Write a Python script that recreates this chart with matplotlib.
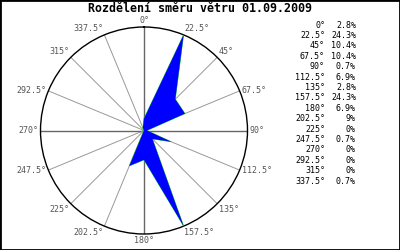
"""wind direction rose 01.09.2009"""
import numpy as np
import matplotlib
matplotlib.use('Agg')
import matplotlib.pyplot as plt
from matplotlib.patches import Rectangle

directions = [0, 22.5, 45, 67.5, 90, 112.5, 135, 157.5,
              180, 202.5, 225, 247.5, 270, 292.5, 315, 337.5]
percent = [2.8, 24.3, 10.4, 10.4, 0.7, 6.9, 2.8, 24.3,
           6.9, 9, 0, 0.7, 0, 0, 0, 0.7]
title = 'Rozdělení směru větru 01.09.2009'

mono = 'DejaVu Sans Mono'

fig = plt.figure(figsize=(4, 2.5), dpi=100)
fig.add_artist(Rectangle((0, 0), 1, 1, transform=fig.transFigure,
                         fill=False, edgecolor='black', lw=2))

ax = fig.add_axes([40.5 / 400, 16 / 250, 207 / 400, 207 / 250],
                  projection='polar')
ax.set_theta_zero_location('N')
ax.set_theta_direction(-1)

theta = np.deg2rad(directions + [directions[0]])
r = percent + [percent[0]]
ax.plot(theta, r, color='#00dd00', lw=0.5, zorder=3)
ax.fill(theta, r, color='blue', lw=0, zorder=4)

rmax = max(percent)
ax.set_ylim(0, rmax)
ax.set_yticks([])
ax.set_xticks(np.deg2rad(directions))
ax.set_xticklabels([])
ax.tick_params(axis='x', length=0)
ax.xaxis.grid(True, color='#999999', lw=0.7, ls='-')
for i, gl in enumerate(ax.xaxis.get_gridlines()):
    if i % 4 == 0:
        gl.set_color('#666666')
        gl.set_linewidth(1.0)
ax.spines['polar'].set_color('black')
ax.spines['polar'].set_linewidth(1.0)

# direction labels just outside the circle
for d in directions:
    s, c = np.sin(np.deg2rad(d)), np.cos(np.deg2rad(d))
    ha = 'left' if s > 0.1 else ('right' if s < -0.1 else 'center')
    va = 'bottom' if c > 0.5 else ('top' if c < -0.5 else 'center')
    ax.annotate('%g°' % d, xy=(np.deg2rad(d), rmax),
                xytext=(1.5 * s, 1.5 * c), textcoords='offset points',
                ha=ha, va=va, fontsize=6, family=mono, color='#555555',
                annotation_clip=False)

fig.text(0.5, 1 - 9 / 250, title, ha='center', va='center',
         fontsize=8.4, family=mono, weight='bold')

for i, (d, p) in enumerate(zip(directions, percent)):
    y = 1 - (25 + i * 10.4) / 250
    fig.text(325 / 400, y, '%g°' % d, ha='right', va='center',
             fontsize=6, family=mono)
    fig.text(356 / 400, y, '%g%%' % p, ha='right', va='center',
             fontsize=6, family=mono)

fig.savefig('out.png', dpi=100)
